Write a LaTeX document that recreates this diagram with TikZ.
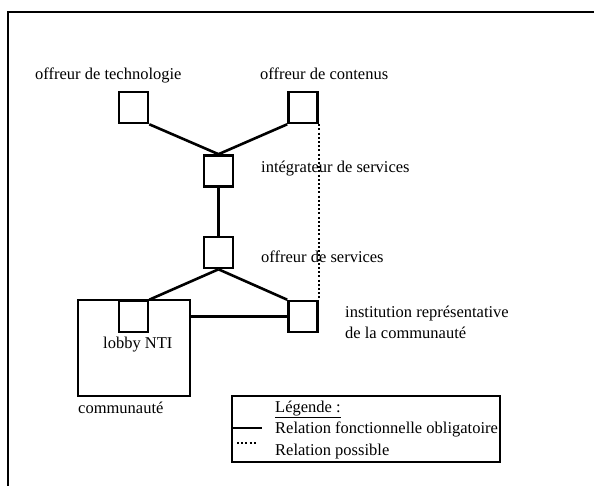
\documentclass[tikz,border=0pt]{standalone}
\usepackage{fontspec}
\setmainfont{Liberation Serif}
\begin{document}
\begin{tikzpicture}[x=1pt,y=-1pt,
  sq/.style={draw,line width=2.6pt,minimum width=29pt,minimum height=31pt,inner sep=0pt},
  lbl/.style={anchor=base west,inner sep=0pt,font=\fontsize{16.5}{19}\selectfont},
  conn/.style={line width=2.6pt},
  dotline/.style={line width=2.2pt,dash pattern=on 2pt off 2.2pt}]
\useasboundingbox (0,0) rectangle (594,486);
% frame
\coordinate (fbl) at (8,487);
\coordinate (ftl) at (8,12);
\coordinate (ftr) at (595,12);
\draw[line width=2.2pt] (fbl) -- (ftl) -- (ftr);
% boxes
\node[sq] (tech) at (133.5,107.5) {};
\node[sq] (cont) at (303,107.5) {};
\node[sq] (integ) at (218.5,171) {};
\node[sq] (serv) at (218.5,252.5) {};
\node[draw,line width=1.7pt,minimum width=112pt,minimum height=96pt,inner sep=0pt] (comm) at (134,348) {};
\node[sq] (lobby) at (133.5,316.5) {};
\node[sq] (inst) at (303,316.5) {};
% connectors
\draw[conn] (tech.south east) -- (integ.north);
\draw[conn] (cont.south west) -- (integ.north);
\draw[conn] (integ.south) -- (serv.north);
\draw[conn] (serv.south) -- (lobby.north east);
\draw[conn] (serv.south) -- (inst.north west);
\draw[conn] (comm.east |- inst.west) -- (inst.west);
\draw[dotline] (cont.south east) -- (inst.north east);
% labels
\node[lbl] (ltech) at (35,80) {offreur de technologie};
\node[lbl] (lcont) at (260,80) {offreur de contenus};
\node[lbl] (linteg) at (261,173) {intégrateur de services};
\node[lbl] (lserv) at (261,262) {offreur de services};
\node[lbl] (linst1) at (345,317) {institution représentative};
\node[lbl] (linst2) at (345,338) {de la communauté};
\node[lbl] (llobby) at (103,348) {lobby NTI};
\node[lbl] (lcomm) at (78,413) {communauté};
% legend
\node[draw,line width=2pt,minimum width=268pt,minimum height=66pt,inner sep=0pt] (leg) at (366,429) {};
\node[lbl] (legt) at (275,412) {\underline{Légende :}};
\node[lbl] (leg1) at (275,433) {Relation fonctionnelle obligatoire};
\node[lbl] (leg2) at (275,455) {Relation possible};
\coordinate (s1) at (262,428);
\coordinate (d0) at (237,443);
\coordinate (d1) at (256,443);
\draw[conn] (leg.west |- s1) -- (s1);
\draw[dotline] (d0) -- (d1);
\end{tikzpicture}
\end{document}
